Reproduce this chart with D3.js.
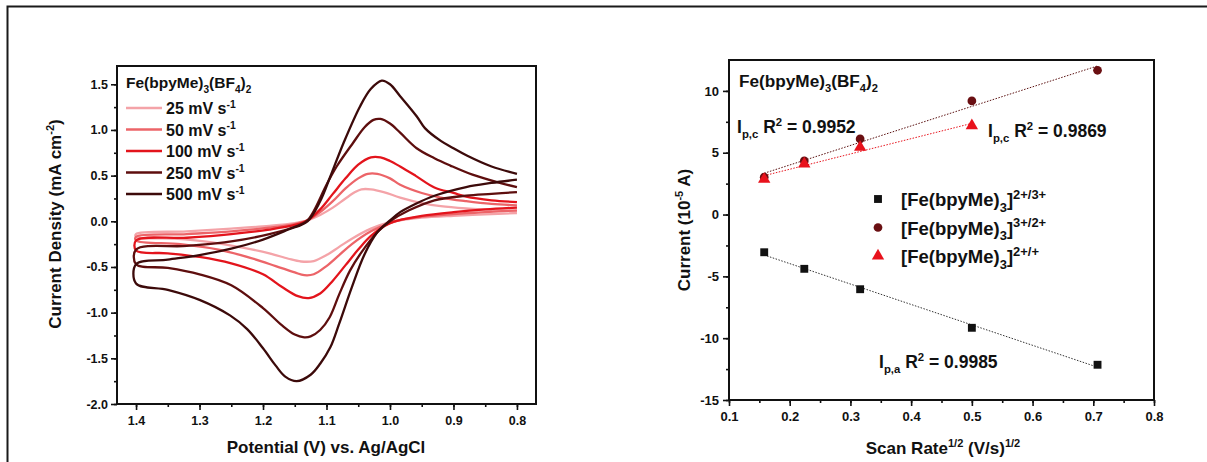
<!DOCTYPE html>
<html>
<head>
<meta charset="utf-8">
<script src="https://cdn.jsdelivr.net/npm/d3@7"></script>
<style>
  body { margin: 0; background: #fff; }
  svg text { font-family: "Liberation Sans", Arial, sans-serif; font-weight: bold; fill: #111; }
</style>
</head>
<body>
<div id="wrapper"></div>
<script>
// ---- left panel: CVs, points are [potential (V), current density (mA cm-2)]
// each loop: lower branch 0.8 -> 1.4, then upper branch 1.4 -> 0.8
const scanRates = ["25", "50", "100", "250", "500"]
const cvColors = ["#f4a3a8", "#ec6468", "#e3141c", "#5e0e0e", "#3c0a0a"]

const cv25 = [
  [0.80,0.09],[0.85,0.075],[0.90,0.06],[0.95,0.04],[0.98,0.015],[1.00,-0.01],[1.03,-0.08],
  [1.06,-0.19],[1.08,-0.28],[1.10,-0.37],[1.12,-0.435],[1.14,-0.44],[1.16,-0.41],[1.19,-0.35],
  [1.23,-0.29],[1.28,-0.23],[1.34,-0.19],[1.40,-0.17],
  [1.40,-0.14],[1.32,-0.11],[1.25,-0.08],[1.19,-0.05],[1.15,-0.02],[1.13,0.01],[1.11,0.07],
  [1.09,0.15],[1.07,0.25],[1.055,0.32],[1.045,0.35],[1.03,0.35],[1.01,0.32],[0.984,0.26],
  [0.95,0.20],[0.92,0.165],[0.88,0.14],[0.84,0.125],[0.80,0.11]
]
const cv50 = [
  [0.80,0.12],[0.85,0.10],[0.90,0.08],[0.95,0.05],[0.98,0.02],[1.00,-0.02],[1.03,-0.11],
  [1.06,-0.25],[1.08,-0.37],[1.10,-0.49],[1.12,-0.58],[1.135,-0.59],[1.15,-0.56],[1.18,-0.49],
  [1.22,-0.40],[1.27,-0.31],[1.33,-0.25],[1.40,-0.21],
  [1.40,-0.17],[1.32,-0.14],[1.25,-0.11],[1.19,-0.07],[1.15,-0.03],[1.13,0.01],[1.11,0.10],
  [1.09,0.22],[1.07,0.36],[1.05,0.47],[1.035,0.52],[1.02,0.52],[1.00,0.47],[0.984,0.40],
  [0.95,0.31],[0.92,0.26],[0.88,0.22],[0.84,0.19],[0.80,0.175]
]
const cv100 = [
  [0.80,0.15],[0.85,0.13],[0.90,0.10],[0.95,0.06],[0.98,0.02],[1.00,-0.02],[1.03,-0.16],
  [1.05,-0.31],[1.07,-0.48],[1.09,-0.65],[1.11,-0.79],[1.128,-0.84],[1.145,-0.82],[1.17,-0.72],
  [1.20,-0.58],[1.25,-0.46],[1.30,-0.39],[1.35,-0.35],[1.40,-0.32],
  [1.40,-0.21],[1.32,-0.18],[1.25,-0.14],[1.19,-0.09],[1.15,-0.04],[1.13,0.01],[1.11,0.13],
  [1.09,0.30],[1.07,0.47],[1.05,0.62],[1.03,0.70],[1.015,0.70],[1.00,0.66],[0.984,0.60],
  [0.96,0.50],[0.93,0.37],[0.90,0.31],[0.88,0.27],[0.84,0.23],[0.80,0.21]
]
const cv250 = [
  [0.80,0.32],[0.84,0.30],[0.88,0.28],[0.93,0.23],[0.97,0.12],[1.00,0.0],[1.02,-0.12],
  [1.045,-0.34],[1.063,-0.54],[1.08,-0.80],[1.095,-1.05],[1.11,-1.19],[1.125,-1.26],[1.135,-1.27],
  [1.15,-1.24],[1.17,-1.14],[1.20,-0.95],[1.25,-0.70],[1.30,-0.58],[1.35,-0.51],[1.40,-0.47],
  [1.40,-0.31],[1.32,-0.27],[1.25,-0.22],[1.19,-0.14],[1.15,-0.06],[1.13,0.01],[1.10,0.40],
  [1.084,0.60],[1.058,0.86],[1.04,1.03],[1.026,1.11],[1.015,1.12],[1.00,1.07],[0.984,0.97],
  [0.958,0.80],[0.93,0.69],[0.905,0.61],[0.87,0.51],[0.827,0.42],[0.80,0.375]
]
const cv500 = [
  [0.80,0.456],[0.84,0.42],[0.88,0.375],[0.93,0.28],[0.96,0.19],[0.984,0.10],[1.00,0.01],
  [1.02,-0.12],[1.04,-0.36],[1.06,-0.72],[1.08,-1.12],[1.094,-1.38],[1.11,-1.56],[1.125,-1.68],
  [1.147,-1.75],[1.165,-1.70],[1.18,-1.58],[1.20,-1.39],[1.225,-1.18],[1.252,-1.03],[1.30,-0.86],
  [1.35,-0.75],[1.40,-0.68],
  [1.40,-0.47],[1.35,-0.42],[1.30,-0.37],[1.25,-0.30],[1.20,-0.20],[1.16,-0.09],[1.13,0.0],
  [1.11,0.22],[1.094,0.49],[1.073,0.86],[1.047,1.26],[1.03,1.45],[1.013,1.54],[1.00,1.50],
  [0.984,1.37],[0.958,1.15],[0.945,1.02],[0.92,0.88],[0.90,0.80],[0.879,0.72],[0.84,0.60],[0.80,0.52]
]
const cvData = [cv25, cv50, cv100, cv250, cv500]

const potentialTicks = [1.4, 1.3, 1.2, 1.1, 1.0, 0.9, 0.8]
const densityTicks = [-2.0, -1.5, -1.0, -0.5, 0.0, 0.5, 1.0, 1.5]

// ---- right panel: peak current (10^-5 A) vs scan rate^1/2
const sqrtScanRate = [0.158, 0.224, 0.316, 0.5, 0.707]
const anodicPeaks = [-3.05, -4.39, -6.04, -9.16, -12.15]
const cathodicPeaks = [3.02, 4.34, 6.12, 9.19, 11.67]
const reductionPeaks = [2.85, 4.10, 5.44, 7.19]
const rateTicks = [0.1, 0.2, 0.3, 0.4, 0.5, 0.6, 0.7, 0.8]
const currentTicks = [-15, -10, -5, 0, 5, 10]

function drawFigure() {
  const svg = d3.select("#wrapper").append("svg")
      .attr("width", 1207)
      .attr("height", 462)

  // outer border (top + left only)
  svg.append("path")
      .attr("d", "M7.5,462 V6.5 H1207")
      .attr("fill", "none")
      .attr("stroke", "#1a1a1a")
      .attr("stroke-width", 2)

  // text with sub/superscripts; parts = [[string, "sub"|"sup"|undefined], ...]
  function richText(g, x, y, parts, size, anchor, small) {
    const k = small || 0.65
    const t = g.append("text")
        .attr("x", x).attr("y", y)
        .attr("font-size", size)
        .attr("text-anchor", anchor || "start")
    let shift = 0
    parts.forEach(([str, kind]) => {
      const target = kind === "sub" ? size * 0.3 : kind === "sup" ? -size * 0.4 : 0
      t.append("tspan")
          .attr("dy", target - shift)
          .attr("font-size", kind ? size * k : size)
          .text(str)
      shift = target
    })
    return t
  }

  // ------------------------------------------------------------ left panel
  const L = {x0: 117, x1: 536, y0: 66, y1: 404}
  const xCV = d3.scaleLinear().domain([1.43, 0.77]).range([L.x0, L.x1])
  const yCV = d3.scaleLinear().domain([-2.0, 1.70]).range([L.y1, L.y0])

  const left = svg.append("g")

  const cvLine = d3.line()
    .curve(d3.curveCatmullRom.alpha(0.5))
    .x(d => xCV(d[0]))
    .y(d => yCV(d[1]))

  left.selectAll("path.cv")
    .data(cvData)
    .join("path")
      .attr("class", "cv")
      .attr("d", cvLine)
      .attr("fill", "none")
      .attr("stroke", (d, i) => cvColors[i])
      .attr("stroke-width", 2.3)

  // axes
  left.append("g")
      .attr("transform", `translate(0,${L.y1})`)
      .call(d3.axisBottom(xCV).tickValues(d3.range(0.8, 1.401, 0.05)).tickSize(3).tickFormat(""))
  left.append("g")
      .attr("transform", `translate(0,${L.y1})`)
      .call(d3.axisBottom(xCV).tickValues(potentialTicks).tickSize(6).tickPadding(6)
        .tickFormat(d => d.toFixed(1)))
  left.append("g")
      .attr("transform", `translate(${L.x0},0)`)
      .call(d3.axisLeft(yCV).tickValues(d3.range(-2.0, 1.51, 0.25)).tickSize(3).tickFormat(""))
  left.append("g")
      .attr("transform", `translate(${L.x0},0)`)
      .call(d3.axisLeft(yCV).tickValues(densityTicks).tickSize(6).tickPadding(3)
        .tickFormat(d => d.toFixed(1)))

  left.selectAll(".domain").remove()
  left.selectAll(".tick line").attr("stroke", "#111").attr("stroke-width", 1.6)
  left.selectAll(".tick text").attr("font-size", 12.5).attr("fill", "#111")
    .attr("font-family", "Liberation Sans, Arial, sans-serif")

  left.append("rect")
      .attr("x", L.x0).attr("y", L.y0)
      .attr("width", L.x1 - L.x0).attr("height", L.y1 - L.y0)
      .attr("fill", "none").attr("stroke", "#111").attr("stroke-width", 2)

  // titles
  richText(left, 326, 453, [["Potential (V) vs. Ag/AgCl"]], 17, "middle")
  richText(left.append("g").attr("transform", "translate(61,224) rotate(-90)"), 0, 0,
    [["Current Density (mA cm"], ["-2", "sup"], [")"]], 17, "middle")

  // legend
  richText(left, 126, 88, [["Fe(bpyMe)"], ["3", "sub"], ["(BF"], ["4", "sub"], [")"], ["2", "sub"]], 15.5)
  scanRates.forEach((r, i) => {
    const y = 108 + i * 21.5
    left.append("line")
        .attr("x1", 126).attr("x2", 162)
        .attr("y1", y).attr("y2", y)
        .attr("stroke", cvColors[i]).attr("stroke-width", 2.5)
    richText(left, 166, y + 6, [[`${r} mV s`], ["-1", "sup"]], 16)
  })

  // ------------------------------------------------------------ right panel
  const R = {x0: 729, x1: 1154, y0: 60, y1: 400}
  const xR = d3.scaleLinear().domain([0.1, 0.8]).range([R.x0, R.x1])
  const yR = d3.scaleLinear().domain([-15, 12.5]).range([R.y1, R.y0])

  const right = svg.append("g")

  right.append("g")
      .attr("transform", `translate(0,${R.y1})`)
      .call(d3.axisBottom(xR).tickValues(d3.range(0.1, 0.801, 0.05)).tickSize(3).tickFormat(""))
  right.append("g")
      .attr("transform", `translate(0,${R.y1})`)
      .call(d3.axisBottom(xR).tickValues(rateTicks).tickSize(6).tickPadding(6)
        .tickFormat(d => d.toFixed(1)))
  right.append("g")
      .attr("transform", `translate(${R.x0},0)`)
      .call(d3.axisLeft(yR).tickValues(d3.range(-15, 12.5, 2.5)).tickSize(3).tickFormat(""))
  right.append("g")
      .attr("transform", `translate(${R.x0},0)`)
      .call(d3.axisLeft(yR).tickValues(currentTicks).tickSize(6).tickPadding(4)
        .tickFormat(d => String(d)))

  right.selectAll(".domain").remove()
  right.selectAll(".tick line").attr("stroke", "#111").attr("stroke-width", 1.6)
  right.selectAll(".tick text").attr("font-size", 13).attr("fill", "#111")
    .attr("font-family", "Liberation Sans, Arial, sans-serif")

  right.append("rect")
      .attr("x", R.x0).attr("y", R.y0)
      .attr("width", R.x1 - R.x0).attr("height", R.y1 - R.y0)
      .attr("fill", "none").attr("stroke", "#111").attr("stroke-width", 2)

  // linear fits (least squares on the plotted points)
  function fit(xs, ys) {
    const mx = d3.mean(xs), my = d3.mean(ys)
    const slope = d3.sum(xs, (x, i) => (x - mx) * (ys[i] - my)) / d3.sum(xs, x => (x - mx) ** 2)
    const b = my - slope * mx
    const ends = d3.extent(xs)
    return ends.map(x => [x, slope * x + b])
  }

  const series = [
    {ys: anodicPeaks, color: "#111", fitColor: "#333", shape: d3.symbolSquare, size: 62},
    {ys: cathodicPeaks, color: "#6a0f12", fitColor: "#5a1010", shape: d3.symbolCircle, size: 60},
    {ys: reductionPeaks, color: "#e8121c", fitColor: "#e8121c", shape: d3.symbolTriangle, size: 66},
  ]

  const fitLine = d3.line().x(d => xR(d[0])).y(d => yR(d[1]))

  series.forEach(s => {
    const xs = sqrtScanRate.slice(0, s.ys.length)
    right.append("path")
        .attr("d", fitLine(fit(xs, s.ys)))
        .attr("fill", "none")
        .attr("stroke", s.fitColor)
        .attr("stroke-width", 1)
        .attr("stroke-dasharray", "1.5,1.5")
  })

  series.forEach(s => {
    right.selectAll(null)
      .data(s.ys)
      .join("path")
        .attr("d", d3.symbol(s.shape, s.size))
        .attr("transform", (d, i) => `translate(${xR(sqrtScanRate[i])},${yR(d)})`)
        .attr("fill", s.color)
  })

  // legend
  const legendLabels = ["2+/3+", "3+/2+", "2+/+"]
  series.forEach((s, i) => {
    const y = 199 + i * 28.5
    right.append("path")
        .attr("d", d3.symbol(s.shape, s.size))
        .attr("transform", `translate(878,${y})`)
        .attr("fill", s.color)
    richText(right, 901, y + 7, [["[Fe(bpyMe)"], ["3", "sub"], ["]"], [legendLabels[i], "sup"]], 18.5, "start", 0.7)
  })

  // annotations
  richText(right, 739, 87, [["Fe(bpyMe)"], ["3", "sub"], ["(BF"], ["4", "sub"], [")"], ["2", "sub"]], 17.2)
  richText(right, 737, 133, [["I"], ["p,c", "sub"], [" R"], ["2", "sup"], [" = 0.9952"]], 17.5)
  richText(right, 988, 137, [["I"], ["p,c", "sub"], [" R"], ["2", "sup"], [" = 0.9869"]], 17.5)
  richText(right, 879, 368, [["I"], ["p,a", "sub"], [" R"], ["2", "sup"], [" = 0.9985"]], 17.5)

  // titles
  richText(right, 943, 454, [["Scan Rate"], ["1/2", "sup"], [" (V/s)"], ["1/2", "sup"]], 17, "middle")
  richText(right.append("g").attr("transform", "translate(690,230) rotate(-90)"), 0, 0,
    [["Current (10"], ["-5", "sup"], [" A)"]], 17, "middle")
}
drawFigure()
</script>
</body>
</html>
